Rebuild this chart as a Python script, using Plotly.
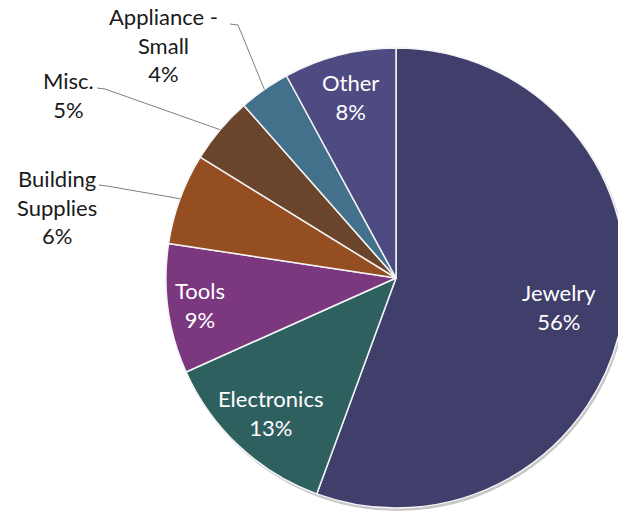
import math
import plotly.graph_objects as go

# Share of items by category (percent of total)
categories = ["Jewelry", "Electronics", "Tools", "Building\nSupplies", "Misc.", "Appliance -\nSmall", "Other"]
values = [55.6, 12.7, 9.1, 6.4, 4.7, 3.6, 7.9]
colors = ["#403F6C", "#2F6060", "#7B387F", "#954E22", "#6A452C", "#43708A", "#4E4A82"]

W, H = 640, 512
CX, CY, R = 396, 278, 230          # pie centre and radius in pixels
FONT = "Lato"
FSIZE = 22

def px(x, y):
    return x / W, 1 - y / H

total = sum(values)
pcts = [v / total for v in values]

fig = go.Figure()
fig.add_trace(go.Pie(
    labels=[c.replace("\n", " ") for c in categories],
    values=values,
    sort=False,
    direction="clockwise",
    rotation=0,
    marker=dict(colors=colors, line=dict(color="#f4f4f4", width=1.5)),
    textinfo="none",
    hoverinfo="label+percent",
    showlegend=False,
    domain=dict(x=[(CX - R) / W, (CX + R) / W], y=[(H - (CY + R)) / H, (H - (CY - R)) / H]),
))

# soft drop shadow under the disc
fig.add_shape(type="circle", xref="paper", yref="paper", layer="below",
              x0=(CX - R + 1) / W, x1=(CX + R + 2) / W,
              y0=(H - (CY + R + 3)) / H, y1=(H - (CY - R + 1)) / H,
              line=dict(width=0), fillcolor="rgba(0,0,0,0.22)")

# label placement: inside slices use a radial fraction, outside ones use text anchors
inside = {0: 0.72, 1: 0.80, 2: 0.86, 6: 0.81}
outside = {3: (57, 207, 99, 185), 4: (68, 95, 97, 88), 5: (163, 45, 230, 24)}

cum = 0.0
for i, (cat, p) in enumerate(zip(categories, pcts)):
    mid = (cum + p / 2) * 2 * math.pi
    cum += p
    lbl = cat.replace("\n", "<br>") + "<br>" + f"{round(p * 100):.0f}%"
    if i in inside:
        f = inside[i]
        x = CX + R * f * math.sin(mid)
        y = CY - R * f * math.cos(mid)
        ax, ay = px(x, y)
        fig.add_annotation(x=ax, y=ay, xref="paper", yref="paper",
                           xanchor="center", yanchor="middle",
                           text=lbl, showarrow=False, align="center",
                           font=dict(family=FONT, size=FSIZE, color="white"))
    else:
        tx, ty, lx, ly = outside[i]
        ex = CX + R * math.sin(mid)
        ey = CY - R * math.cos(mid)
        ax, ay = px(tx, ty)
        fig.add_annotation(x=ax, y=ay, xref="paper", yref="paper",
                           xanchor="center", yanchor="middle",
                           text=lbl, showarrow=False, align="center",
                           font=dict(family=FONT, size=FSIZE, color="#1a1a1a"))
        x0, y0 = px(lx, ly)
        x1, y1 = px(lx + 8, ly + 1)
        x2, y2 = px(ex, ey)
        fig.add_shape(type="path", xref="paper", yref="paper",
                      path=f"M {x0} {y0} L {x1} {y1} L {x2} {y2}",
                      line=dict(color="#7f7f7f", width=1))

fig.update_layout(width=W, height=H, margin=dict(l=0, r=0, t=0, b=0),
                  paper_bgcolor="white", plot_bgcolor="white")

fig.write_html("out.html",
               post_script="document.body.style.margin='0';document.body.style.overflow='hidden';"
                           "document.documentElement.style.overflow='hidden';")
